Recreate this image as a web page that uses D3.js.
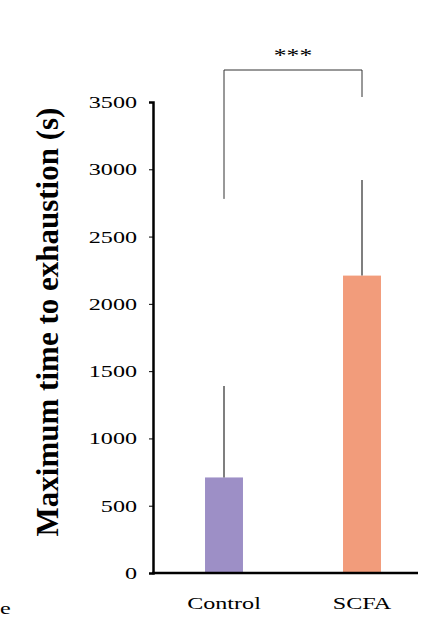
<!DOCTYPE html>
<html><head><meta charset="utf-8">
<script src="https://cdn.jsdelivr.net/npm/d3@7"></script>
<style>body{margin:0;background:#fff}</style>
</head><body>
<svg id="c" width="442" height="634"></svg>
<script>
const categories = ["Control", "SCFA"];
const means = [710, 2210];
const errorTops = [1390, 2920];
const barColors = ["#9d8fc6", "#f29c7b"];
const yTicks = [0, 500, 1000, 1500, 2000, 2500, 3000, 3500];
const bracketStart = 2780;

const svg = d3.select("#c");
const font = "'Liberation Serif', 'Times New Roman', serif";
const sx = 1.42; // horizontal stretch of the reference text

// Scales
const x = d3.scaleBand().domain(categories).range([155, 431]).paddingInner(0.725).paddingOuter(0.3625);
const y = d3.scaleLinear().domain([0, 3500]).range([573, 102]);

// Bars
svg.selectAll(".bar").data(categories).enter().append("rect")
  .attr("x", d => x(d)).attr("width", x.bandwidth())
  .attr("y", (d, i) => y(means[i])).attr("height", (d, i) => y(0) - y(means[i]))
  .attr("fill", (d, i) => barColors[i]);

// Error bars (upper only)
svg.selectAll(".err").data(categories).enter().append("line")
  .attr("x1", d => x(d) + x.bandwidth() / 2).attr("x2", d => x(d) + x.bandwidth() / 2)
  .attr("y1", (d, i) => y(means[i])).attr("y2", (d, i) => y(errorTops[i]))
  .attr("stroke", "#555").attr("stroke-width", 1.5);

// Y axis
const yAxis = svg.append("g").attr("transform", "translate(153,0)")
  .call(d3.axisLeft(y).tickValues(yTicks).tickFormat(d3.format("d")).tickSize(4).tickPadding(16));
yAxis.select(".domain").attr("stroke", "#000").attr("stroke-width", 2.5);
yAxis.selectAll(".tick text").attr("font-family", font).attr("font-size", 17).attr("fill", "#000")
  .attr("x", -16 / sx).attr("transform", `scale(${sx},1)`);

// X axis line
svg.append("line").attr("x1", 152).attr("x2", 418).attr("y1", y(0)).attr("y2", y(0))
  .attr("stroke", "#000").attr("stroke-width", 2.5);

// Category labels
svg.selectAll(".cat").data(categories).enter().append("text")
  .attr("transform", d => `translate(${x(d) + x.bandwidth() / 2},609) scale(${sx},1)`)
  .attr("text-anchor", "middle").attr("font-family", font).attr("font-size", 17)
  .text(d => d);

// Significance bracket
const cx = categories.map(d => x(d) + x.bandwidth() / 2);
svg.append("path")
  .attr("d", `M${cx[0]},${y(bracketStart)}V70H${cx[1]}V97`)
  .attr("fill", "none").attr("stroke", "#333").attr("stroke-width", 1);
svg.append("text").attr("transform", `translate(${(cx[0] + cx[1]) / 2},62) scale(${sx},1)`)
  .attr("text-anchor", "middle").attr("font-family", font).attr("font-size", 18)
  .text("***");

// Y label
svg.append("text").attr("transform", "translate(58,322) rotate(-90)")
  .attr("text-anchor", "middle").attr("font-family", font).attr("font-size", 31)
  .attr("font-weight", "bold").text("Maximum time to exhaustion (s)");

svg.append("text").attr("transform", `translate(0,614) scale(${sx},1)`).attr("font-family", font)
  .attr("font-size", 17).text("e");
</script>
</body></html>
